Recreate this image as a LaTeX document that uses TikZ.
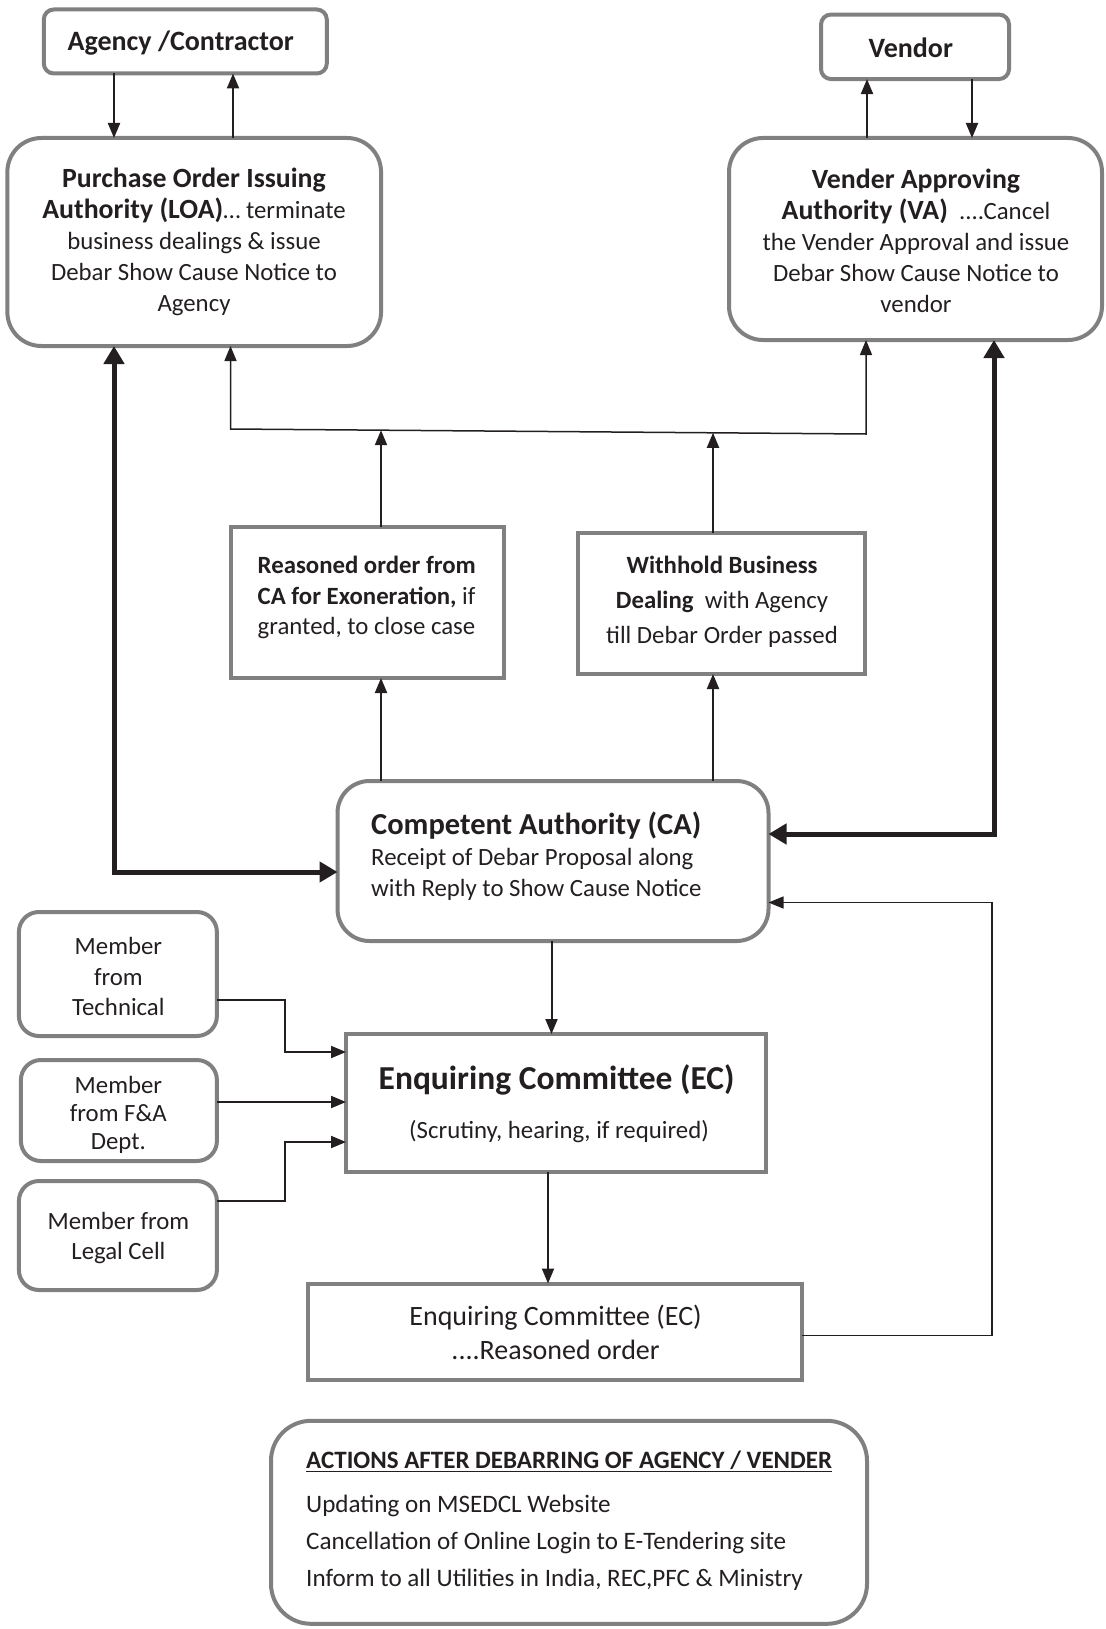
\documentclass[tikz,border=0pt]{standalone}
\usepackage{fontspec}
\setmainfont{Carlito}
\usetikzlibrary{arrows.meta}
\definecolor{bordergray}{HTML}{808080}
\definecolor{ink}{HTML}{231F20}
\newcommand{\fsz}[2]{\fontsize{#1}{#2}\selectfont}
\begin{document}
\begin{tikzpicture}[x=1pt,y=-1pt,
  rbox/.style={draw=bordergray, line width=4pt, rounded corners=#1, inner sep=0pt, outer sep=0pt},
  sbox/.style={draw=bordergray, line width=4pt, inner sep=0pt, outer sep=0pt},
  arr/.style={draw=ink, line width=2pt, -{Triangle[length=15pt,width=12pt]}},
  arrboth/.style={draw=ink, line width=1.5pt, {Triangle[length=15pt,width=12pt]}-{Triangle[length=15pt,width=12pt]}},
  fatarr/.style={draw=ink, line width=5pt, {Triangle[length=18pt,width=20pt]}-{Triangle[length=18pt,width=20pt]}},
  thinarr/.style={draw=ink, line width=1.3pt, -{Triangle[length=15pt,width=12pt]}},
  txt/.style={text=ink, inner sep=0pt, align=center, font=\fsz{24.8}{31}}
]
\useasboundingbox (0,0) rectangle (1105,1629);

% boxes
\node[rbox=10pt, minimum width=283pt, minimum height=64pt] (agency) at (185.3,41.5) {};
\node[rbox=10pt, minimum width=188pt, minimum height=64.5pt] (vendor) at (915,46.8) {};
\node[rbox=34pt, minimum width=373.7pt, minimum height=208pt] (po) at (194.2,242) {};
\node[rbox=34pt, minimum width=373pt, minimum height=202pt] (va) at (915.5,239) {};
\node[sbox, minimum width=273.5pt, minimum height=151.5pt] (reason) at (367.25,602.25) {};
\node[sbox, minimum width=287pt, minimum height=141pt] (withhold) at (721.5,603.5) {};
\node[rbox=32pt, minimum width=431pt, minimum height=160pt] (ca) at (553,861) {};
\node[sbox, minimum width=420pt, minimum height=138pt] (ec) at (556,1103) {};
\node[rbox=20pt, minimum width=198pt, minimum height=124pt] (tech) at (117.9,974) {};
\node[rbox=20pt, minimum width=196pt, minimum height=101pt] (fa) at (118.9,1110.5) {};
\node[rbox=20pt, minimum width=198pt, minimum height=109pt] (legal) at (117.9,1235.5) {};
\node[sbox, minimum width=494pt, minimum height=96.5pt] (ecr) at (555,1331.75) {};
\node[rbox=40pt, minimum width=596pt, minimum height=203pt] (actions) at (569,1522.3) {};

% texts
\node[txt, font=\bfseries\fsz{28}{31}] (tagency) at (180.7,43) {Agency /Contractor};
\node[txt, font=\bfseries\fsz{28}{31}] (tvendor) at (910.8,47.5) {Vendor};
\node[txt] (tpo) at (194,242) {{\bfseries\fsz{27.8}{34}Purchase Order Issuing}\\
 {\bfseries\fsz{27.8}{34}Authority (LOA)}\ldots{} terminate\\
 business dealings \& issue\\ Debar Show Cause Notice to\\ Agency};
\node[txt] (tva) at (916,241) {{\bfseries\fsz{27.8}{34}Vender Approving}\\
 {\bfseries\fsz{27.8}{34}Authority (VA)}\ \ ....Cancel\\
 the Vender Approval and issue\\ Debar Show Cause Notice to\\ vendor};
\node[txt, align=left, anchor=west, font=\fsz{24.8}{30.5}] (treason) at (257.5,597.5) {\textbf{Reasoned order from}\\
 \textbf{CA for Exoneration,} if\\ granted, to close case};
\node[txt, font=\fsz{24.8}{35}] (twithhold) at (722,601.5) {\textbf{Withhold Business}\\
 \textbf{Dealing}\ \ with Agency\\ till Debar Order passed};
\node[txt, align=left, anchor=west, font=\fsz{24.8}{31}] (tca) at (371,856) {{\bfseries\fsz{30.5}{34}Competent Authority (CA)}\\
 Receipt of Debar Proposal along\\ with Reply to Show Cause Notice};
\node[txt, font=\bfseries\fsz{33.5}{36}] (tec) at (556.6,1080) {Enquiring Committee (EC)};
\node[txt] (tecsub) at (559,1132) {(Scrutiny,\ hearing,\ if required)};
\node[txt, font=\fsz{24.8}{30.5}] (ttech) at (118.4,976.5) {Member\\ from\\ Technical};
\node[txt, font=\fsz{24.8}{28}] (tfa) at (118.4,1115) {Member\\ from F\&A\\ Dept.};
\node[txt, font=\fsz{24.8}{30}] (tlegal) at (118.4,1238) {Member from\\ Legal Cell};
\node[txt, font=\fsz{28}{34}] (tecr) at (555.6,1332) {Enquiring Committee (EC)\\ ....Reasoned order};
\node[txt, anchor=west, font=\bfseries\fsz{25}{30}] (tacttitle) at (306,1461) {\underline{ACTIONS AFTER DEBARRING OF AGENCY / VENDER}};
\node[txt, anchor=west, align=left, font=\fsz{25.1}{37.2}] (tactlines) at (306,1543) {Updating on MSEDCL Website\\
 Cancellation of Online Login to E-Tendering site\\ Inform to all Utilities in India, REC,PFC \& Ministry};

% helper coordinates
\coordinate (xA) at (114,0);
\coordinate (xB) at (233,0);
\coordinate (xC) at (867,0);
\coordinate (xD) at (972,0);
\coordinate (xR) at (994,0);
\coordinate (jl) at (230.5,429);
\coordinate (jr) at (866,434);
\coordinate (j1) at (381,430.2);
\coordinate (j2) at (713,432.8);
\coordinate (yL) at (0,872);
\coordinate (yR) at (0,834);
\coordinate (xCE) at (551.5,0);
\coordinate (xEE) at (548,0);
\coordinate (bend) at (284.5,0);
\coordinate (yT1) at (0,1000);
\coordinate (yT2) at (0,1052);
\coordinate (yF) at (0,1102);
\coordinate (yL1) at (0,1200.5);
\coordinate (yL2) at (0,1142);
\coordinate (fb1) at (992,1335.5);
\coordinate (fb2) at (992,902.5);

% connectors top
\draw[arr] (agency.south -| xA) -- (po.north -| xA);
\draw[arr] (po.north -| xB) -- (agency.south -| xB);
\draw[arr] (va.north -| xC) -- (vendor.south -| xC);
\draw[arr] (vendor.south -| xD) -- (va.north -| xD);

% thick two-way arrows
\draw[fatarr] (po.south -| xA) -- (xA |- yL) -- (ca.west |- yL);
\draw[fatarr] (va.south -| xR) -- (xR |- yR) -- (ca.east |- yR);

% distribution line
\draw[arrboth] (po.south -| jl) -- (jl) -- (jr) -- (va.south -| jr);
\draw[arr] (reason.north -| j1) -- (j1);
\draw[arr] (withhold.north -| j2) -- (j2);
\draw[arr] (ca.north -| j1) -- (reason.south -| j1);
\draw[arr] (ca.north -| j2) -- (withhold.south -| j2);

% CA to EC
\draw[arr] (ca.south -| xCE) -- (ec.north -| xCE);

% members
\draw[arr] (tech.east |- yT1) -- (bend |- yT1) -- (bend |- yT2) -- (ec.west |- yT2);
\draw[arr] (fa.east |- yF) -- (ec.west |- yF);
\draw[arr] (legal.east |- yL1) -- (bend |- yL1) -- (bend |- yL2) -- (ec.west |- yL2);

% EC to reasoned order
\draw[arr] (ec.south -| xEE) -- (ecr.north -| xEE);

% feedback
\draw[thinarr] (ecr.east |- fb1) -- (fb1) -- (fb2) -- (ca.east |- fb2);
\end{tikzpicture}
\end{document}
